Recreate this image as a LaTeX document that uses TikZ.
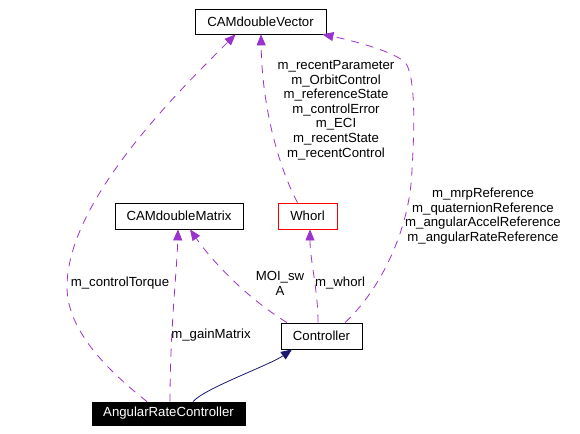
\documentclass[tikz,border=0pt]{standalone}
\usepackage{fontspec}
\setmainfont{Liberation Sans}
\usetikzlibrary{arrows.meta}
\definecolor{usecol}{HTML}{9A32CD}
\definecolor{inhcol}{HTML}{191970}
\begin{document}
\begin{tikzpicture}[x=1pt,y=-1pt,
  every node/.style={font=\fontsize{13.2}{14.6}\selectfont},
  cls/.style={draw=black,fill=white,line width=0.8pt,inner sep=0pt,anchor=center},
  uses/.style={draw=usecol,line width=0.8pt,dash pattern=on 8pt off 7pt,
     -{Triangle[length=11pt,width=9pt,fill=usecol]}},
  inherit/.style={draw=inhcol,line width=0.8pt,
     -{Triangle[length=11pt,width=9pt,fill=inhcol]}},
  lbl/.style={align=center,inner sep=0pt,text=black}]
\useasboundingbox[fill=white] (0,0) rectangle (580,433);
\node[cls,minimum width=131pt,minimum height=25pt] (vec) at (260.5,21.5) {CAMdoubleVector};
\node[cls,minimum width=128pt,minimum height=26pt] (mat) at (179,216) {CAMdoubleMatrix};
\node[cls,draw=red,minimum width=59pt,minimum height=26pt] (whorl) at (307.5,216) {Whorl};
\node[cls,minimum width=81pt,minimum height=26pt] (ctrl) at (321.5,336) {Controller};
\node[cls,fill=black,text=white,minimum width=153pt,minimum height=23pt] (arc) at (168.5,413.5) {AngularRateController};
% m_controlTorque
\coordinate (ct) at (67,287);
\draw[uses] ([xshift=-21.5pt]arc.north) .. controls (107,370) and (67,330) .. (ct)
   .. controls (67,200) and (180,90) .. ([xshift=-25pt]vec.south);
\node[lbl] (lct) at (120,283) {m\_controlTorque};
% m_gainMatrix
\draw[uses] ([xshift=1.5pt]arc.north) .. controls (170,330) and (177,270) .. ([xshift=-1pt]mat.south);
\node[lbl] (lgm) at (211,335) {m\_gainMatrix};
% inheritance
\draw[inherit] ([xshift=24.5pt]arc.north) .. controls (205,388) and (270,365) .. ([xshift=-29.5pt]ctrl.south);
% MOI_swA
\draw[uses] ([xshift=-34.5pt]ctrl.north) .. controls (250,300) and (215,265) .. ([xshift=11pt]mat.south);
\node[lbl] (lmoi) at (280,283.5) {MOI\_sw\\A};
% m_whorl
\draw[uses] ([xshift=-3.5pt]ctrl.north) .. controls (318,290) and (310,260) .. ([xshift=2.5pt]whorl.south);
\node[lbl] (lwh) at (340,283) {m\_whorl};
% whorl -> vec
\draw[uses] ([xshift=-10pt]whorl.north) .. controls (280,170) and (262,110) .. ([xshift=0.5pt]vec.south);
\node[lbl] (lrec) at (336,110) {m\_recentParameter\\m\_OrbitControl\\m\_referenceState\\m\_controlError\\m\_ECI\\m\_recentState\\m\_recentControl};
% controller -> vec
\coordinate (m1) at (412,170);
\coordinate (m2) at (405,62);
\draw[uses] ([xshift=23.5pt]ctrl.north) .. controls (380,290) and (410,230) .. (m1)
   .. controls (415,120) and (415,75) .. (m2)
   .. controls (390,50) and (350,40) .. ([xshift=-4pt]vec.south east);
\node[lbl] (lmrp) at (483,216) {m\_mrpReference\\m\_quaternionReference\\m\_angularAccelReference\\m\_angularRateReference};
\end{tikzpicture}
\end{document}
